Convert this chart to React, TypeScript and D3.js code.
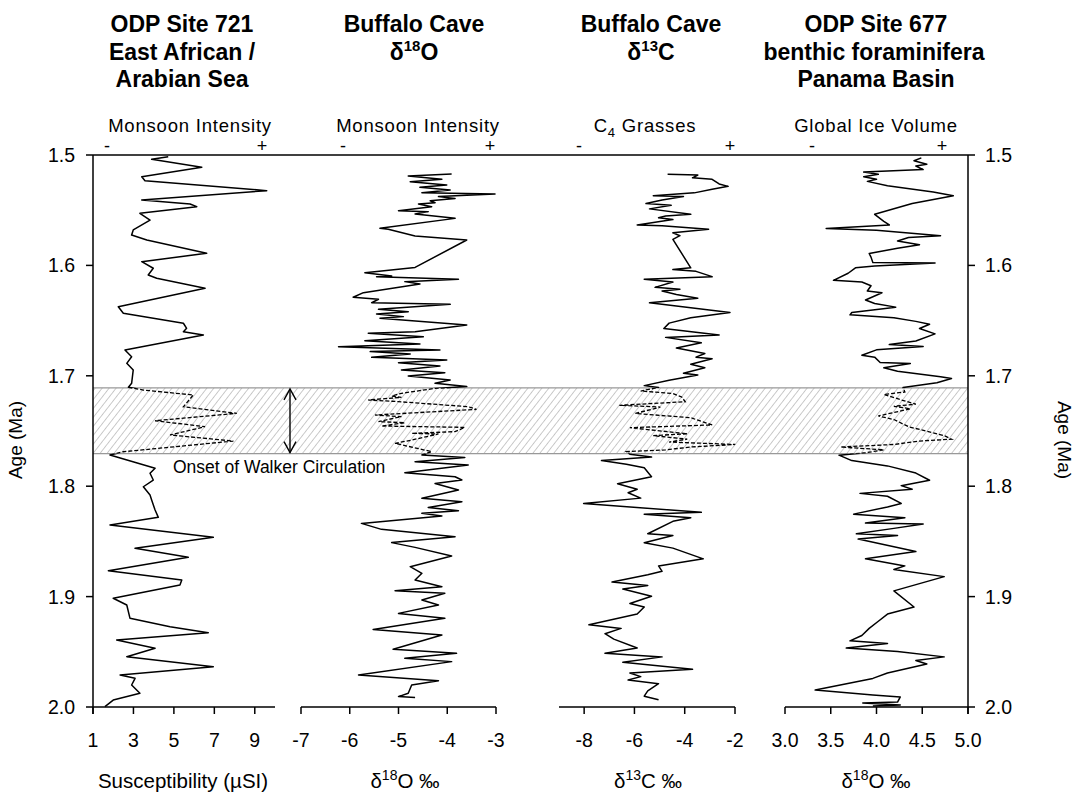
import React from "react";
import * as d3 from "d3";

// [age (Ma), value]
const site721: [number, number][] = [
  [1.5015, 4.72], [1.5039, 3.9], [1.5111, 6.38], [1.5197, 3.41], [1.5233, 3.57], [1.5323, 9.59],
  [1.5408, 3.41], [1.5444, 5.8], [1.5468, 6.13], [1.5528, 3.32], [1.5589, 3.82], [1.5679, 2.99],
  [1.5725, 2.91], [1.577, 3.66], [1.589, 6.62], [1.5966, 3.41], [1.6026, 3.98], [1.6087, 3.73],
  [1.6117, 4.15], [1.6207, 6.54], [1.6374, 2.25], [1.6434, 2.5], [1.6524, 5.47], [1.657, 5.63],
  [1.6601, 5.47], [1.663, 6.46], [1.6766, 2.58], [1.6827, 2.91], [1.6887, 2.67], [1.6947, 2.99],
  [1.7068, 2.91], [1.7104, 2.75], [1.7129, 3.49], [1.7174, 5.96], [1.728, 5.47], [1.734, 8.11],
  [1.7407, 4.07], [1.7461, 6.54], [1.7536, 4.81], [1.7591, 7.94], [1.7688, 2.5], [1.7717, 1.84],
  [1.7838, 4.07], [1.7883, 3.82], [1.7944, 3.98], [1.8005, 3.49], [1.808, 3.82], [1.8125, 3.9],
  [1.8216, 4.07], [1.8282, 4.23], [1.8351, 1.84], [1.8463, 6.95], [1.8563, 3.08], [1.8644, 5.71],
  [1.8765, 1.76], [1.885, 5.39], [1.8895, 5.3], [1.9015, 2.0], [1.9076, 2.67], [1.9197, 2.83],
  [1.9273, 4.81], [1.9327, 6.7], [1.9393, 2.17], [1.9468, 4.07], [1.9544, 2.67], [1.9635, 6.95],
  [1.971, 2.34], [1.974, 3.08], [1.9801, 2.91], [1.9876, 3.32], [1.9937, 2.0], [1.9997, 1.59],
];

const buffaloO: [number, number][] = [
  [1.5172, -3.91], [1.519, -4.8], [1.522, -4.11], [1.5242, -4.76], [1.5272, -4.01], [1.5293, -4.56],
  [1.5317, -3.94], [1.5341, -4.52], [1.5353, -3.02], [1.5377, -4.18], [1.5393, -3.84], [1.5414, -4.35],
  [1.5432, -4.25], [1.5444, -4.59], [1.5468, -4.32], [1.5504, -5.0], [1.5513, -4.39], [1.5534, -4.66],
  [1.5574, -3.84], [1.5664, -5.38], [1.5673, -5.21], [1.5734, -4.66], [1.577, -3.6], [1.6018, -4.66],
  [1.6066, -5.69], [1.6096, -5.14], [1.6102, -5.45], [1.6126, -3.77], [1.6147, -4.87], [1.6168, -4.56],
  [1.6247, -5.72], [1.6289, -5.93], [1.6307, -5.41], [1.6338, -5.55], [1.6353, -3.94], [1.6398, -5.41],
  [1.6419, -4.8], [1.644, -5.45], [1.6464, -4.9], [1.6479, -5.38], [1.654, -3.6], [1.66, -4.66],
  [1.6615, -5.62], [1.6646, -4.49], [1.6682, -5.69], [1.6712, -4.56], [1.6736, -6.23], [1.6766, -4.15],
  [1.6781, -5.58], [1.6803, -4.76], [1.6833, -5.55], [1.6857, -4.01], [1.6881, -5.0], [1.6911, -4.15],
  [1.6947, -4.94], [1.6972, -4.05], [1.7002, -4.8], [1.7038, -3.94], [1.7068, -4.25], [1.7098, -3.6],
  [1.7114, -4.25], [1.7159, -4.94], [1.7183, -5.14], [1.7195, -4.94], [1.7219, -5.62], [1.7234, -5.0],
  [1.728, -3.57], [1.7304, -3.4], [1.7355, -5.48], [1.737, -4.94], [1.7415, -5.41], [1.7425, -4.87],
  [1.7455, -5.35], [1.7467, -3.64], [1.7506, -3.84], [1.7521, -4.73], [1.7527, -4.18], [1.7582, -4.73],
  [1.7612, -5.07], [1.7687, -4.32], [1.7717, -4.52], [1.7739, -3.64], [1.7778, -4.66], [1.7808, -3.57],
  [1.7878, -4.87], [1.7914, -3.84], [1.7944, -3.7], [1.7975, -4.25], [1.8035, -3.77], [1.811, -4.52],
  [1.814, -3.7], [1.8192, -4.39], [1.8222, -3.77], [1.8246, -4.52], [1.827, -4.11], [1.8337, -5.76],
  [1.8391, -5.35], [1.8457, -3.84], [1.8511, -5.14], [1.8554, -4.66], [1.8632, -3.91], [1.8729, -4.76],
  [1.8789, -4.52], [1.885, -4.66], [1.891, -4.11], [1.8946, -5.07], [1.897, -4.05], [1.9031, -4.52],
  [1.9076, -4.18], [1.9152, -5.0], [1.9197, -4.05], [1.9297, -5.52], [1.9348, -4.11], [1.9477, -5.11],
  [1.9514, -3.81], [1.9559, -4.87], [1.9589, -3.91], [1.971, -5.82], [1.9762, -4.18], [1.9801, -4.73],
  [1.9876, -4.8], [1.9906, -5.0], [1.9915, -4.66],
];

const buffaloC: [number, number][] = [
  [1.5175, -4.68], [1.5181, -3.48], [1.5207, -3.69], [1.522, -2.91], [1.5262, -2.63], [1.5284, -2.27],
  [1.5311, -2.91], [1.5343, -3.62], [1.5369, -5.25], [1.5375, -4.05], [1.5408, -4.9], [1.544, -5.54],
  [1.5456, -4.54], [1.5488, -5.4], [1.5537, -3.76], [1.5553, -4.76], [1.5569, -5.04], [1.5585, -4.47],
  [1.5634, -5.89], [1.564, -4.9], [1.5673, -3.05], [1.5705, -4.47], [1.5731, -4.19], [1.5764, -4.47],
  [1.6022, -3.76], [1.6038, -4.47], [1.6054, -3.55], [1.6102, -2.91], [1.6125, -5.61], [1.6151, -4.47],
  [1.6199, -5.18], [1.6216, -4.19], [1.6232, -4.9], [1.6264, -4.33], [1.6297, -3.48], [1.6339, -5.4],
  [1.6426, -2.2], [1.6475, -3.76], [1.6523, -4.62], [1.6572, -4.83], [1.663, -2.63], [1.6652, -4.76],
  [1.6701, -3.34], [1.6749, -4.33], [1.6798, -3.2], [1.6831, -3.55], [1.6846, -2.91], [1.6895, -3.76],
  [1.6928, -3.2], [1.6976, -4.05], [1.6992, -3.48], [1.7041, -4.62], [1.7089, -5.61], [1.7105, -5.04],
  [1.7138, -5.75], [1.716, -4.47], [1.7192, -4.12], [1.7235, -3.98], [1.7267, -6.6], [1.7283, -4.97],
  [1.7341, -5.96], [1.738, -3.76], [1.7445, -2.91], [1.747, -6.18], [1.7525, -3.9], [1.7542, -5.25],
  [1.7574, -3.9], [1.76, -4.62], [1.7622, -1.99], [1.7645, -3.76], [1.7671, -4.76], [1.7687, -6.32],
  [1.771, -6.18], [1.7736, -5.32], [1.7768, -7.31], [1.7801, -6.32], [1.7833, -5.61], [1.7914, -5.32],
  [1.7978, -6.67], [1.8027, -5.89], [1.8059, -6.25], [1.8108, -5.75], [1.8156, -8.02], [1.8237, -3.34],
  [1.8253, -5.61], [1.8285, -3.76], [1.8318, -4.47], [1.8431, -5.47], [1.8447, -4.47], [1.8512, -5.61],
  [1.8561, -4.47], [1.8658, -3.26], [1.8722, -5.04], [1.8771, -4.9], [1.8802, -5.47], [1.8868, -6.89],
  [1.8899, -5.47], [1.8932, -6.46], [1.8997, -5.32], [1.9062, -6.18], [1.9094, -5.61], [1.9158, -5.89],
  [1.9255, -7.81], [1.9288, -6.53], [1.9336, -7.17], [1.9385, -6.82], [1.9466, -5.89], [1.9514, -7.17],
  [1.9546, -4.9], [1.9595, -6.46], [1.9659, -3.69], [1.9692, -6.18], [1.9725, -5.75], [1.9756, -6.25],
  [1.9789, -5.04], [1.9854, -5.47], [1.9902, -5.61], [1.9935, -5.04],
];

const site677: [number, number][] = [
  [1.5026, 4.49], [1.5052, 4.41], [1.5084, 4.55], [1.51, 4.43], [1.5132, 4.51], [1.5155, 3.86],
  [1.5175, 4.02], [1.5197, 3.86], [1.522, 4.0], [1.5239, 3.9], [1.5278, 4.12], [1.5336, 4.62],
  [1.5369, 4.84], [1.544, 4.39], [1.5537, 3.98], [1.5601, 4.08], [1.5634, 4.14], [1.5666, 3.45],
  [1.5682, 4.0], [1.5731, 4.7], [1.5747, 4.35], [1.5779, 4.23], [1.5812, 4.47], [1.5844, 4.23],
  [1.5892, 3.92], [1.5925, 3.94], [1.5974, 3.96], [1.5978, 4.64], [1.6005, 3.98], [1.6022, 3.77],
  [1.6071, 3.69], [1.6135, 3.53], [1.6151, 3.84], [1.6184, 3.94], [1.6232, 3.9], [1.6248, 4.06],
  [1.6313, 3.88], [1.6345, 3.98], [1.6378, 4.21], [1.6426, 3.73], [1.6448, 3.71], [1.6475, 4.19],
  [1.6507, 4.43], [1.6533, 4.58], [1.6572, 4.47], [1.662, 4.64], [1.6685, 4.43], [1.6717, 4.14],
  [1.6734, 4.51], [1.6765, 4.0], [1.6814, 3.84], [1.6831, 3.98], [1.6879, 4.04], [1.6889, 4.37],
  [1.6928, 4.08], [1.6959, 4.23], [1.7008, 4.7], [1.7024, 4.82], [1.7063, 4.66], [1.7105, 4.29],
  [1.7147, 4.31], [1.7169, 4.08], [1.7218, 4.27], [1.7257, 4.43], [1.7276, 4.19], [1.7299, 4.37],
  [1.7364, 4.02], [1.7396, 4.19], [1.7461, 4.35], [1.7542, 4.74], [1.7574, 4.82], [1.7591, 4.47],
  [1.7622, 4.19], [1.7645, 3.61], [1.7671, 4.08], [1.7697, 3.88], [1.7719, 3.59], [1.7768, 3.73],
  [1.7816, 4.12], [1.7881, 4.43], [1.7946, 4.58], [1.7995, 4.27], [1.8027, 4.39], [1.8065, 3.82],
  [1.8091, 4.12], [1.8156, 4.27], [1.8188, 4.12], [1.8253, 3.75], [1.8285, 4.31], [1.8334, 3.88],
  [1.8343, 4.51], [1.8382, 4.19], [1.8431, 3.78], [1.8447, 4.23], [1.8479, 3.8], [1.8592, 4.43],
  [1.8658, 3.88], [1.8722, 4.31], [1.8755, 4.19], [1.8819, 4.74], [1.8948, 4.19], [1.9094, 4.41],
  [1.9158, 4.12], [1.9223, 4.02], [1.9288, 3.92], [1.9352, 3.84], [1.9401, 3.71], [1.9424, 4.12],
  [1.9466, 3.67], [1.9498, 4.23], [1.9546, 4.74], [1.9579, 4.43], [1.9611, 4.55], [1.9692, 4.12],
  [1.9741, 3.96], [1.9846, 3.33], [1.9891, 3.96], [1.9909, 4.26], [1.9955, 4.23], [1.9964, 3.85],
  [1.9982, 4.26], [1.9991, 3.96],
];

const ageTicks = [1.5, 1.6, 1.7, 1.8, 1.9, 2.0];
const ticks1 = [1, 3, 5, 7, 9];
const ticks2 = [-7, -6, -5, -4, -3];
const ticks3 = [-8, -6, -4, -2];
const ticks4 = [3.0, 3.5, 4.0, 4.5, 5.0];
const bandAges = [1.711, 1.7705];

const FONT = "'Liberation Sans', Arial, sans-serif";

export default function App() {
  const y = d3.scaleLinear().domain([1.5, 2.0]).range([155, 707]);
  const x1 = d3.scaleLinear().domain([1, 10]).range([93, 275]);
  const x2 = d3.scaleLinear().domain([-7, -3]).range([301, 496]);
  const x3 = d3.scaleLinear().domain([-9, -2]).range([559, 735]);
  const x4 = d3.scaleLinear().domain([3, 5]).range([785, 968]);
  const leftX = 93;
  const rightX = 968;
  const axisY = y(2.0);
  const topY = y(1.5);
  const bTop = y(bandAges[0]);
  const bBot = y(bandAges[1]);

  const mk = (sx: d3.ScaleLinear<number, number>) =>
    d3.line<[number, number]>().x((d) => sx(d[1])).y((d) => y(d[0]));

  const series = [
    { data: site721, sx: x1 },
    { data: buffaloO, sx: x2 },
    { data: buffaloC, sx: x3 },
    { data: site677, sx: x4 },
  ];

  const bottomAxes = [
    { sx: x1, ticks: ticks1, fmt: (v: number) => String(v) },
    { sx: x2, ticks: ticks2, fmt: (v: number) => String(v) },
    { sx: x3, ticks: ticks3, fmt: (v: number) => String(v) },
    { sx: x4, ticks: ticks4, fmt: (v: number) => v.toFixed(1) },
  ];

  const arrowX = 290;

  return (
    <svg
      width={1080}
      height={794}
      style={{ position: "absolute", left: 0, top: 0, background: "#fff" }}
      fontFamily={FONT}
    >
      <defs>
        <pattern id="hatch" width={5.5} height={5.5} patternUnits="userSpaceOnUse" patternTransform="rotate(38)">
          <line x1={0} y1={-1} x2={0} y2={7} stroke="#8a8a8a" strokeWidth={0.9} />
        </pattern>
        <clipPath id="clipIn">
          <rect x={0} y={bTop} width={1080} height={bBot - bTop} />
        </clipPath>
        <clipPath id="clipOut">
          <rect x={0} y={0} width={1080} height={bTop} />
          <rect x={0} y={bBot} width={1080} height={794 - bBot} />
        </clipPath>
      </defs>
      <rect x={0} y={0} width={1080} height={794} fill="#fff" />

      {/* band */}
      <rect x={leftX} y={bTop} width={rightX - leftX} height={bBot - bTop} fill="url(#hatch)" />
      <line x1={leftX} x2={rightX} y1={bTop} y2={bTop} stroke="#999" strokeWidth={1.3} />
      <line x1={leftX} x2={rightX} y1={bBot} y2={bBot} stroke="#999" strokeWidth={1.3} />

      {/* series */}
      {series.map((s, i) => (
        <g key={i}>
          <path d={mk(s.sx)(s.data) || ""} fill="none" stroke="#000" strokeWidth={1.5} clipPath="url(#clipOut)" strokeLinejoin="round" />
          <path d={mk(s.sx)(s.data) || ""} fill="none" stroke="#000" strokeWidth={1.3} strokeDasharray="4,2" clipPath="url(#clipIn)" />
        </g>
      ))}

      {/* arrow */}
      <g stroke="#000" strokeWidth={1.4} fill="none">
        <line x1={arrowX} x2={arrowX} y1={bTop + 1} y2={bBot - 1} />
        <polyline points={`${arrowX - 6},${bTop + 12} ${arrowX},${bTop + 1} ${arrowX + 6},${bTop + 12}`} />
        <polyline points={`${arrowX - 6},${bBot - 12} ${arrowX},${bBot - 1} ${arrowX + 6},${bBot - 12}`} />
      </g>
      <text x={173} y={473} fontSize={17.5} fill="#000">Onset of Walker Circulation</text>

      {/* top line */}
      <line x1={leftX} x2={rightX} y1={topY} y2={topY} stroke="#000" strokeWidth={1.5} />
      {/* left axis */}
      <line x1={leftX} x2={leftX} y1={topY} y2={axisY + 7} stroke="#000" strokeWidth={1.5} />
      {ageTicks.map((t) => (
        <g key={"l" + t}>
          <line x1={leftX - 7} x2={leftX} y1={y(t)} y2={y(t)} stroke="#000" strokeWidth={1.5} />
          <text x={75} y={y(t) + 7} fontSize={19.5} textAnchor="end">{t.toFixed(1)}</text>
        </g>
      ))}
      {/* right axis */}
      <line x1={rightX} x2={rightX} y1={topY} y2={axisY + 7} stroke="#000" strokeWidth={1.5} />
      {ageTicks.map((t) => (
        <g key={"r" + t}>
          <line x1={rightX} x2={rightX + 7} y1={y(t)} y2={y(t)} stroke="#000" strokeWidth={1.5} />
          <text x={985} y={y(t) + 7} fontSize={19.5} textAnchor="start">{t.toFixed(1)}</text>
        </g>
      ))}

      {/* bottom axes */}
      {bottomAxes.map((a, i) => {
        const [r0, r1] = a.sx.range();
        return (
          <g key={"b" + i}>
            <line x1={r0} x2={r1} y1={axisY} y2={axisY} stroke="#000" strokeWidth={1.5} />
            {a.ticks.map((t) => (
              <g key={t}>
                <line x1={a.sx(t)} x2={a.sx(t)} y1={axisY} y2={axisY + 7} stroke="#000" strokeWidth={1.5} />
                <text x={a.sx(t)} y={747} fontSize={19.5} textAnchor="middle">{a.fmt(t)}</text>
              </g>
            ))}
          </g>
        );
      })}

      {/* bottom titles */}
      <text x={183} y={788} fontSize={20.5} textAnchor="middle">Susceptibility (µSI)</text>
      <text x={405} y={788} fontSize={20.5} textAnchor="middle">δ<tspan dy={-8} fontSize={14}>18</tspan><tspan dy={8}>O ‰</tspan></text>
      <text x={648} y={788} fontSize={20.5} textAnchor="middle">δ<tspan dy={-8} fontSize={14}>13</tspan><tspan dy={8}>C ‰</tspan></text>
      <text x={876} y={788} fontSize={20.5} textAnchor="middle">δ<tspan dy={-8} fontSize={14}>18</tspan><tspan dy={8}>O ‰</tspan></text>

      {/* age titles */}
      <text transform="translate(22,440) rotate(-90)" fontSize={19} textAnchor="middle">Age (Ma)</text>
      <text transform="translate(1058,440) rotate(90)" fontSize={19} textAnchor="middle">Age (Ma)</text>

      {/* headers */}
      <g fontWeight="bold" fontSize={23} textAnchor="middle">
        <text x={182} y={32}>ODP Site 721</text>
        <text x={182} y={60}>East African /</text>
        <text x={182} y={87}>Arabian Sea</text>
        <text x={414} y={32}>Buffalo Cave</text>
        <text x={414} y={60}>δ<tspan dy={-9} fontSize={15}>18</tspan><tspan dy={9}>O</tspan></text>
        <text x={651} y={32}>Buffalo Cave</text>
        <text x={651} y={60}>δ<tspan dy={-9} fontSize={15}>13</tspan><tspan dy={9}>C</tspan></text>
        <text x={876} y={32}>ODP Site 677</text>
        <text x={874} y={60}>benthic foraminifera</text>
        <text x={876} y={87}>Panama Basin</text>
      </g>

      {/* sub headers */}
      <g fontSize={18.5} letterSpacing={0.8} textAnchor="middle">
        <text x={190} y={132}>Monsoon Intensity</text>
        <text x={418} y={132}>Monsoon Intensity</text>
        <text x={645} y={132}>C<tspan dy={5} fontSize={13}>4</tspan><tspan dy={-5}> Grasses</tspan></text>
        <text x={876} y={132}>Global Ice Volume</text>
      </g>
      <g fontSize={18} textAnchor="middle">
        <text x={107} y={152}>-</text>
        <text x={262} y={152}>+</text>
        <text x={343} y={152}>-</text>
        <text x={490} y={152}>+</text>
        <text x={579} y={152}>-</text>
        <text x={730} y={152}>+</text>
        <text x={812} y={152}>-</text>
        <text x={942} y={152}>+</text>
      </g>
    </svg>
  );
}
